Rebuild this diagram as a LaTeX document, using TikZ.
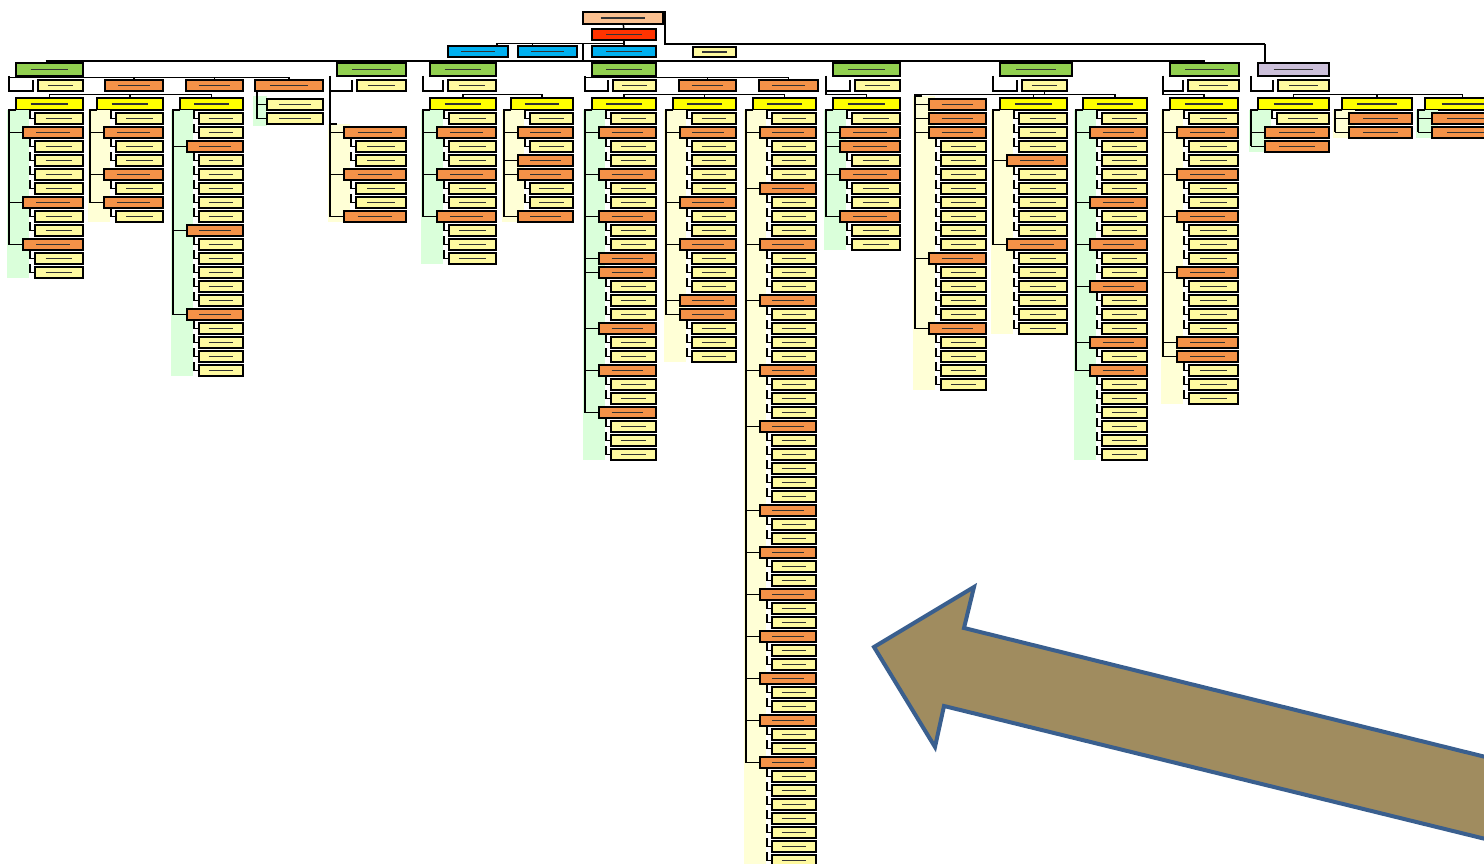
\documentclass[tikz,border=0pt]{standalone}
\usepackage{tikz}
\usetikzlibrary{calc}
\definecolor{peachC}{RGB}{250,192,144}
\definecolor{redC}{RGB}{255,51,0}
\definecolor{blueC}{RGB}{0,176,240}
\definecolor{greenC}{RGB}{146,208,80}
\definecolor{yelC}{RGB}{255,255,0}
\definecolor{orgC}{RGB}{244,146,72}
\definecolor{paleC}{RGB}{255,250,160}
\definecolor{purpC}{RGB}{204,192,218}
\definecolor{bgG}{RGB}{218,255,218}
\definecolor{bgY}{RGB}{255,255,214}
\definecolor{arrowFill}{RGB}{160,140,95}
\definecolor{arrowLine}{RGB}{58,95,142}
% a box from (x1,y1) to (x2,y2)
\newcommand{\bx}[6][box]{\node[#1, minimum width={(#5-#3)*1pt}, minimum height={(#6-#4)*1pt}] (#2) at (#3,#4) {};}
% a column of units under a header
\newcommand{\orgcol}[6]{%
  \foreach \t [count=\i from 0, evaluate=\i as \yy using #4+\i*14] in {#6}
    \fill[#5] (#2-9,\yy-3) rectangle (#2+13,\yy+11);
  \foreach \t [count=\i from 0, evaluate=\i as \yy using #4+\i*14] in {#6} {
    \if o\t
      \node[obox, minimum width={(#3-#2-7)*1pt}] (#1-\i) at (#2+7,\yy) {};
      \draw (#1-\i.west) -- ++(-14,0);
      \xdef\lasty{\yy}
    \else
      \node[pbox, minimum width={(#3-#2-19)*1pt}] (#1-\i) at (#2+19,\yy) {};
      \draw ([xshift=-5pt,yshift=3pt]#1-\i.north west) |- (#1-\i.west);
    \fi
  }
  \draw (#2,#4-3) -- (#2-7,#4-3) -- (#2-7,\lasty+5.5);
}

\begin{document}
\begin{tikzpicture}[x=1pt, y=-1pt, line width=1.5pt,
  smudge/.style={path picture={\draw[black!80, line width=1.3pt]
      ($(path picture bounding box.west)!0.22!(path picture bounding box.east)$) --
      ($(path picture bounding box.west)!0.78!(path picture bounding box.east)$);}},
  box/.style={draw, line width=1.7pt, inner sep=0pt, outer sep=0pt, anchor=north west,
    minimum height=11pt, smudge},
  obox/.style={box, fill=orgC}, pbox/.style={box, fill=paleC},
  ybox/.style={box, fill=yelC}, gbox/.style={box, fill=greenC},
  bbox/.style={box, fill=blueC}]
\useasboundingbox (0,0) rectangle (1484,864);

% top of the chart
\bx[box, fill=peachC]{rt}{583}{12}{663}{24}
\bx[box, fill=redC]{rd}{592}{29}{656}{40}
\bx[bbox]{b1}{448}{46}{508}{57}
\bx[bbox]{b2}{518}{46}{577}{57}
\bx[bbox]{b3}{592}{46}{656}{57}
\bx[pbox]{b4}{693}{47}{736}{57}
\coordinate (j1) at (1265,44);
\coordinate (j2) at (497,43.5);
\coordinate (j3) at (583,43.5);
\coordinate (bar1) at (0,61);
\draw (rt) -- (rd);
\draw (rt.north east) -- ++(2,0) |- (j1);
\draw (rt.south east) -- ++(3,0);
\draw (rd.south) |- (j2) -- (j2 |- b1.north);
\draw ([xshift=-15pt]b2.north) -- ++(0,-2.5);
\draw (rd) -- (b3);
\draw (j3) -- (j3 |- bar1);

% directorates
\bx[gbox]{g1}{16}{63}{83}{76}
\bx[gbox]{g2}{337}{63}{406}{76}
\bx[gbox]{g3}{430}{63}{496}{76}
\bx[gbox]{g4}{592}{63}{656}{76}
\bx[gbox]{g5}{833}{63}{900}{76}
\bx[gbox]{g6}{1000}{63}{1072}{76}
\bx[gbox]{g7}{1170}{63}{1239}{76}
\bx[box, fill=purpC]{pu}{1258}{63}{1329}{76}
\draw (j1) -- (j1 |- pu.north);
\draw ([xshift=-4pt]g1.north |- bar1) -- (g7.north |- bar1);
\foreach \g in {g1,g2,g3,g4,g5,g6,g7}
  \draw (\g.north) -- (\g.north |- bar1);

% second level
\bx[pbox]{a1}{38}{80}{83}{91}
\bx[obox]{a2}{105}{80}{163}{91}
\bx[obox]{a3}{186}{80}{243}{91}
\bx[obox]{a4}{255}{80}{323}{91}
\bx[pbox]{c1}{357}{80}{406}{91}
\bx[pbox]{d1}{448}{80}{496}{91}
\bx[pbox]{e1}{613}{80}{656}{91}
\bx[obox]{e2}{679}{80}{736}{91}
\bx[obox]{e3}{759}{80}{818}{91}
\bx[pbox]{f1}{855}{80}{900}{91}
\bx[pbox]{h1}{1022}{80}{1067}{91}
\bx[pbox]{k1}{1188}{80}{1239}{91}
\bx[pbox]{m1}{1278}{80}{1329}{91}
\foreach \g/\a in {g1/a1,g2/c1,g3/d1,g4/e1,g5/f1,g6/h1,g7/k1,pu/m1}
  \draw ([xshift=-7pt]\g.south west) |- ([xshift=-5pt]\a.south west) -- ([xshift=-5pt]\a.north west);
\draw ([xshift=-7pt,yshift=-1.5pt]g1.south west) -| (a4.north);
\draw (a2.north) -- ++(0,-2.5);
\draw (a3.north) -- ++(0,-2.5);
\draw ([xshift=-7pt,yshift=-1.5pt]g4.south west) -| (e3.north);
\draw (e2.north) -- ++(0,-2.5);

% headers of the columns
\bx[ybox]{A-h}{16}{98}{83}{110}
\bx[ybox]{B-h}{97}{98}{163}{110}
\bx[ybox]{C-h}{180}{98}{243}{110}
\bx[ybox]{D-h}{430}{98}{496}{110}
\bx[ybox]{E-h}{511}{98}{573}{110}
\bx[ybox]{F-h}{592}{98}{656}{110}
\bx[ybox]{G-h}{673}{98}{736}{110}
\bx[ybox]{H-h}{753}{98}{816}{110}
\bx[ybox]{I-h}{833}{98}{900}{110}
\bx[ybox]{K-h}{1000}{98}{1067}{110}
\bx[ybox]{L-h}{1083}{98}{1147}{110}
\bx[ybox]{M-h}{1170}{98}{1238}{110}
\bx[ybox]{N-h}{1258}{98}{1329}{110}
\bx[ybox]{O-h}{1342}{98}{1412}{110}
\bx[ybox]{P-h}{1425}{98}{1500}{110}
\draw (A-h.north) -- ++(0,-3.5) -| (C-h.north);
\draw (B-h.north) -- ++(0,-3.5);
\draw (D-h.north) -- ++(0,-3.5) -| (E-h.north);
\draw (F-h.north) -- ++(0,-3.5) -| (H-h.north);
\draw (G-h.north) -- ++(0,-3.5);
\draw ([xshift=-7pt]g5.south west) |- ([yshift=3.5pt]I-h.north) -- (I-h.north);
\coordinate (J-top) at (915,94.5);
\draw (J-top) -- ++(0,2);
\draw (J-top) -| (L-h.north);
\draw (K-h.north) -- ++(0,-3.5);
\draw (h1.south) -- ++(0,3.5);
\draw ([xshift=-7pt]g7.south west) |- ([yshift=3.5pt]M-h.north) -- (M-h.north);
\draw (N-h.north) -- ++(0,-3.5) -| (P-h.north);
\draw (O-h.north) -- ++(0,-3.5);

% units
\orgcol{A}{16}{83}{113}{bgG}{p,o,p,p,p,p,o,p,p,o,p,p}
\orgcol{B}{97}{163}{113}{bgY}{p,o,p,p,o,p,o,p}
\orgcol{C}{180}{243}{113}{bgG}{p,p,o,p,p,p,p,p,o,p,p,p,p,p,o,p,p,p,p}
\fill[bgG] (253,96) rectangle (267,126);
\bx[pbox]{Q-0}{267}{99}{323}{110}
\bx[pbox]{Q-1}{267}{113}{323}{124}
\draw ([xshift=2pt]a4.south west) |- (Q-1.west);
\draw (Q-0.west) -- ++(-10,0);
\orgcol{R}{337}{406}{127}{bgY}{o,p,p,o,p,p,o}
\draw ([xshift=-7pt]g2.south west) -- (330,124);
\orgcol{D}{430}{496}{113}{bgG}{p,o,p,p,o,p,p,o,p,p,p}
\orgcol{E}{511}{573}{113}{bgY}{p,o,p,o,o,p,p,o}
\orgcol{F}{592}{656}{113}{bgG}{p,o,p,p,o,p,p,o,p,p,o,o,p,p,p,o,p,p,o,p,p,o,p,p,p}
\orgcol{G}{673}{736}{113}{bgY}{p,o,p,p,p,p,o,p,p,o,p,p,p,o,o,p,p,p}
\orgcol{H}{753}{816}{113}{bgY}{p,o,p,p,p,o,p,p,p,o,p,p,p,o,p,p,p,p,o,p,p,p,o,p,p,p,p,p,o,p,p,o,p,p,o,p,p,o,p,p,o,p,p,o,p,p,o,p,p,p,p,p,p,p}
\orgcol{I}{833}{900}{113}{bgG}{p,o,o,p,o,p,p,o,p,p}
\orgcol{J}{922}{986}{99}{bgY}{o,o,o,p,p,p,p,p,p,p,p,o,p,p,p,p,o,p,p,p,p}
\orgcol{K}{1000}{1067}{113}{bgY}{p,p,p,o,p,p,p,p,p,o,p,p,p,p,p,p}
\orgcol{L}{1083}{1147}{113}{bgG}{p,o,p,p,p,p,o,p,p,o,p,p,o,p,p,p,o,p,o,p,p,p,p,p,p}
\orgcol{M}{1170}{1238}{113}{bgY}{p,o,p,p,o,p,p,o,p,p,p,o,p,p,p,p,o,o,p,p,p}
\orgcol{N}{1258}{1329}{113}{bgG}{p,o,o}
\orgcol{O}{1342}{1412}{113}{bgY}{o,o}
\orgcol{P}{1425}{1500}{113}{bgG}{o,o}

% the big arrow
\draw[line width=4pt, line join=miter, draw=arrowLine, fill=arrowFill]
  (874,647) -- (974,587) -- (964,628) -- (1510,763) -- (1510,845)
  -- (944,706) -- (935,747) -- cycle;
\end{tikzpicture}
\end{document}
